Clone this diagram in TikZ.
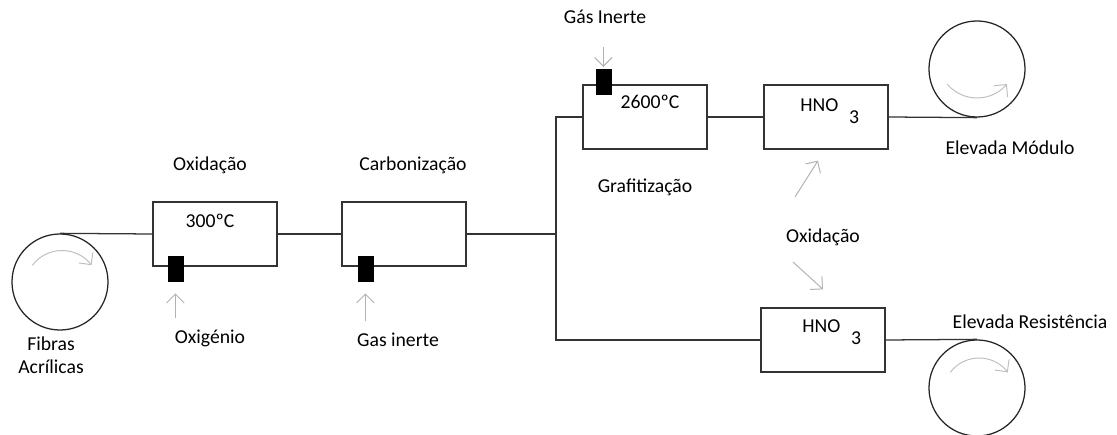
\documentclass[tikz,border=0pt]{standalone}
\usepackage{fontspec}
\setmainfont{Carlito}
\usetikzlibrary{positioning,arrows.meta}

\begin{document}
\begin{tikzpicture}[
x=0.025cm, y=0.025cm,
node distance=0.6cm,
every node/.style={font=\fontsize{14}{16}\selectfont, text=black},
box/.style={draw=black!80, line width=0.9pt, minimum width=3.1cm, minimum height=1.6cm},
spool/.style={draw=black!85, line width=0.9pt, circle, minimum size=2.4cm},
valve/.style={draw, fill=black, minimum width=0.375cm, minimum height=0.625cm, inner sep=0pt},
pipe/.style={draw=black!80, line width=0.9pt},
feed/.style={-{Straight Barb[length=2.2mm]}, gray!60, line width=0.7pt},
spin/.style={-{Straight Barb[length=2.2mm]}, gray!50, line width=0.7pt}
]
\useasboundingbox (0,0) rectangle (1117,434);
% spools and furnaces
\node[spool] (fibras) at (60,152) {};
\node[box] (oxi) at (215,200) {};
\node[box] (carb) at (404,200) {};
\node[box] (graf) at (645,317) {};
\node[box] (hnoa) at (826,317) {};
\node[box] (hnob) at (823,94) {};
\node[spool] (modulo) at (977,365) {};
\node[spool] (resist) at (977,46) {};
\coordinate (split) at (556,200);
% gas inlets
\node[valve] (v1) at ([shift={(23,-2)}]oxi.south west) {};
\node[valve] (v2) at ([shift={(24,-2)}]carb.south west) {};
\node[valve] (v3) at ([shift={(21,3)}]graf.north west) {};
% texts
\node (t300) at (210,213) {300ºC};
\node (t2600) at (650,332) {2600ºC};
\node[anchor=base west, inner sep=0pt] (hnoatxt) at (800,322) {HNO\hspace{0.55em}\raisebox{-8.5pt}{3}};
\node[anchor=base west, inner sep=0pt] (hnobtxt) at (802,101) {HNO\hspace{0.55em}\raisebox{-8.5pt}{3}};
\node (oxidacao) at (210,269) {Oxidação};
\node (carbonizacao) at (413,269) {Carbonização};
\node (oxigenio) at (210,96) {Oxigénio};
\node (gasinerte) at (398,94) {Gas inerte};
\node[align=center] (fibrastxt) at (51,79) {Fibras\\Acrílicas};
\node (gasinerte2) at (605,417) {Gás Inerte};
\node (grafitizacao) at (645,247) {Grafitização};
\node (modulotxt) at (1010,286) {Elevada Módulo};
\node (oxidacao2) at (823,197) {Oxidação};
\node (resisttxt) at (1030,112) {Elevada Resistência};
% fibre path
\draw[pipe] (fibras.north) -- (oxi.west);
\draw[pipe] (oxi) -- (carb);
\draw[pipe] (carb.east) -- (split);
\draw[pipe] (graf.west) -| (split) |- (hnob.west);
\draw[pipe] (graf) -- (hnoa);
\draw[pipe] (hnoa.east) -- (modulo.south);
\draw[pipe] (hnob.east) -- (resist.north);
% gas and oxidation arrows
\draw[feed, shorten <=0.16cm, shorten >=0.3cm] (oxigenio.north -| v1.south) -- (v1.south);
\draw[feed, shorten <=0.18cm, shorten >=0.3cm] (gasinerte.north -| v2.south) -- (v2.south);
\draw[feed, shorten <=0.46cm, shorten >=0.04cm] (gasinerte2.south -| v3.north) -- (v3.north);
\draw[feed] ([shift={(-28,40)}]oxidacao2.center) -- ([shift={(-8,-11)}]hnoa.south);
\draw[feed] ([shift={(-30,-25)}]oxidacao2.center) -- ([shift={(0,18)}]hnob.north);
% rotation arrows
\draw[spin] ([shift={(2,-5.5)}]fibras.center) ++(143:37) arc[start angle=143, end angle=37, radius=37];
\draw[spin] ([shift={(0,10)}]modulo.center) ++(220:39) arc[start angle=220, end angle=320, radius=39];
\draw[spin] ([shift={(2,-6)}]resist.center) ++(143:36) arc[start angle=143, end angle=37, radius=36];
\end{tikzpicture}
\end{document}
